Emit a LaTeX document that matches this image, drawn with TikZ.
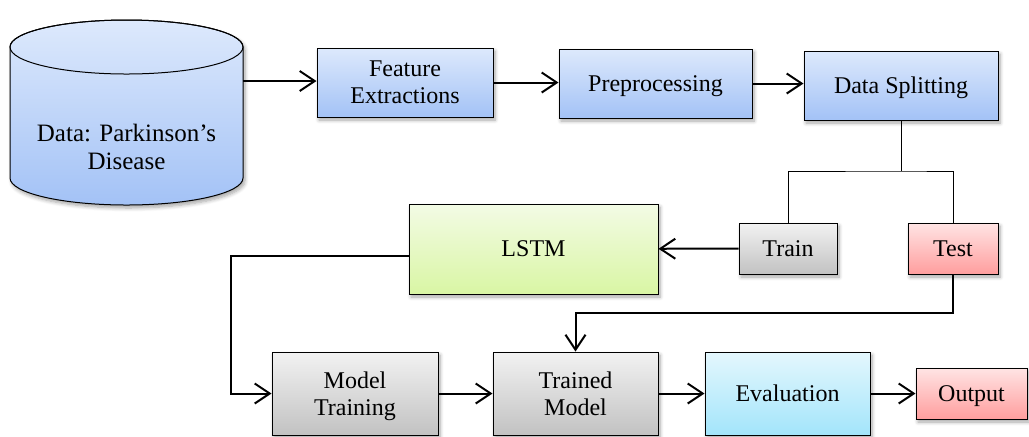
\documentclass[tikz,border=0pt]{standalone}
\usepackage{fontspec}
\setmainfont{Liberation Serif}
\usepackage{xcolor}
\usepackage{tikz}
\usetikzlibrary{arrows.meta,positioning,calc,shadows.blur}

\definecolor{blueT}{HTML}{DDE9FC}
\definecolor{blueB}{HTML}{A3C2F6}
\definecolor{greenT}{HTML}{F3FBE5}
\definecolor{greenB}{HTML}{D9F6A4}
\definecolor{grayT}{HTML}{F2F2F2}
\definecolor{grayB}{HTML}{C2C2C2}
\definecolor{cyanT}{HTML}{E4F7FD}
\definecolor{cyanB}{HTML}{A3E5FB}
\definecolor{redT}{HTML}{FFE4E4}
\definecolor{redB}{HTML}{FF9E9E}

\begin{document}
\begin{tikzpicture}[x=0.5pt, y=-0.5pt,
  box/.style={draw, line width=0.5pt, align=center, inner sep=2pt,
    text depth=-1.3pt, font=\fontsize{12}{13.5}\selectfont,
    blur shadow={shadow xshift=1pt, shadow yshift=-1.5pt,
      shadow blur steps=6, shadow opacity=35}},
  bluebox/.style={box, top color=blueT, bottom color=blueB},
  greenbox/.style={box, top color=greenT, bottom color=greenB},
  graybox/.style={box, top color=grayT, bottom color=grayB},
  cyanbox/.style={box, top color=cyanT, bottom color=cyanB},
  redbox/.style={box, top color=redT, bottom color=redB},
  arr/.style={-{Straight Barb[length=7.5pt,width=10pt]}, line width=1pt},
  tree/.style={line width=0.5pt},
]
  \useasboundingbox (0,0) rectangle (1029,436);

  % database cylinder
  \path[draw, line width=0.5pt, top color=blueT, bottom color=blueB,
    blur shadow={shadow xshift=1pt, shadow yshift=-1.5pt,
      shadow blur steps=6, shadow opacity=35}]
    (10,47) -- (10,178)
    arc[start angle=180, end angle=360, x radius=58.25pt, y radius=13.5pt]
    -- (243,47)
    arc[start angle=0, end angle=180, x radius=58.25pt, y radius=13.5pt]
    -- cycle;
  \draw[line width=0.5pt] (126.5,47) ellipse [x radius=58.25pt, y radius=13.5pt];
  \node[align=center, font=\fontsize{12.5}{14}\selectfont] (data) at (126.5,147)
    {Data: Parkinson's\\Disease};
  \coordinate (dataout) at (243,81);

  % top row
  \node[bluebox, minimum width=88pt, minimum height=34.5pt]   (feat)  at (405,82.5)
    {Feature\\Extractions};
  \node[bluebox, minimum width=96.5pt, minimum height=34.5pt] (prep)  at (655.5,83.5)
    {Preprocessing};
  \node[bluebox, minimum width=97pt, minimum height=34.5pt]   (split) at (901,85.5)
    {Data Splitting};

  % middle row
  \node[greenbox, minimum width=124.5pt, minimum height=45pt] (lstm)  at (533.5,249)
    {LSTM};
  \node[graybox, minimum width=49pt, minimum height=25.5pt]   (train) at (788,248.5)
    {Train};
  \node[redbox, minimum width=45pt, minimum height=25.5pt]    (test)  at (953,248.5)
    {Test};

  % bottom row
  \node[graybox, minimum width=83pt, minimum height=41.5pt]   (mtrain) at (355,393.5)
    {Model\\Training};
  \node[graybox, minimum width=82.5pt, minimum height=41.5pt] (tmodel) at (575.5,393.5)
    {Trained\\Model};
  \node[cyanbox, minimum width=82.5pt, minimum height=41.5pt] (eval)   at (787.5,393.5)
    {Evaluation};
  \node[redbox, minimum width=55.5pt, minimum height=25.5pt]  (out)    at (971.5,393.5)
    {Output};

  \coordinate (fork)  at (901,171);
  \coordinate (bend)  at (231,256);
  \coordinate (tdrop) at (953,313);

  \draw[arr] (dataout) -- (dataout -| feat.west);
  \draw[arr] (feat.east) -- (feat.east -| prep.west);
  \draw[arr] (prep.east) -- (prep.east -| split.west);

  \draw[tree] (split.south) -- (fork);
  \draw[tree] (train.north) |- (fork) -| (test.north);

  \draw[arr] (train) -- (lstm);
  \draw[arr] (lstm.west |- bend) -- (bend) |- (mtrain.west);
  \draw[arr] (test.south) -- (tdrop) -| (tmodel.north);

  \draw[arr] (mtrain) -- (tmodel);
  \draw[arr] (tmodel) -- (eval);
  \draw[arr] (eval) -- (out);
\end{tikzpicture}
\end{document}
